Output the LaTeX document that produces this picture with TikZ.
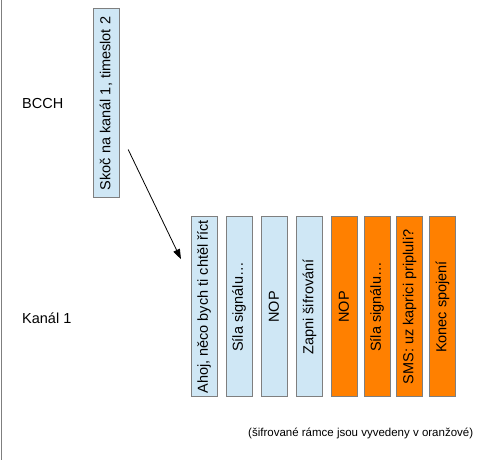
\documentclass[tikz,border=0pt]{standalone}
\usepackage{fontspec}
\setmainfont{Liberation Sans}
\usetikzlibrary{positioning, arrows.meta}
\definecolor{slotblue}{HTML}{CFE7F5}
\definecolor{slotorange}{HTML}{FF8000}
\definecolor{slotgray}{HTML}{7F7F7F}
\tikzstyle{slot} = [rectangle, rotate=90, minimum width=180pt, minimum height=26pt, inner sep=1pt, text centered, draw=slotgray, line width=1pt, fill=slotblue, font=\fontsize{14.5}{16}\selectfont]
\tikzstyle{cryptslot} = [slot, fill=slotorange]
\tikzstyle{chname} = [anchor=west, inner sep=0pt, font=\fontsize{14.5}{16}\selectfont]
\tikzstyle{arrow} = [->, >={Triangle[length=10pt,width=7pt]}, line width=0.8pt]

\begin{document}
\begin{tikzpicture}[x=1pt, y=1pt]
    \useasboundingbox (0,0) rectangle (496,461);
    \draw [slotgray, line width=1pt] (1.5,461) -- (1.5,1);

    %kanaly
    \node (bcch) [chname] at (22,357) {BCCH};
    \node (kanal) [chname] at (22,143) {Kanál 1};

    %ramce
    \node (skok) [slot, minimum width=189pt] at (106,357.5) {Skoč na kanál 1, timeslot 2};
    \node (ahoj) [slot] at (204,154) {Ahoj, něco bych ti chtěl říct};
    \node (sila) [slot] at (239,154) {Síla signálu…};
    \node (nop) [slot] at (274,154) {NOP};
    \node (zapni) [slot] at (309.5,154) {Zapni šifrování};
    \node (nopb) [cryptslot] at (344,154) {NOP};
    \node (silab) [cryptslot] at (377,154) {Síla signálu…};
    \node (sms) [cryptslot] at (409.5,154) {SMS: uz kaprici pripluli?};
    \node (konec) [cryptslot] at (442.5,154) {Konec spojení};

    \node (pozn) [chname, font=\fontsize{11.5}{13}\selectfont] at (248,28) {(šifrované rámce jsou vyvedeny v oranžové)};

    %skok na kanal
    \draw [arrow, shorten <=20pt, shorten >=22pt] (skok) -- (ahoj);
\end{tikzpicture}
\end{document}
